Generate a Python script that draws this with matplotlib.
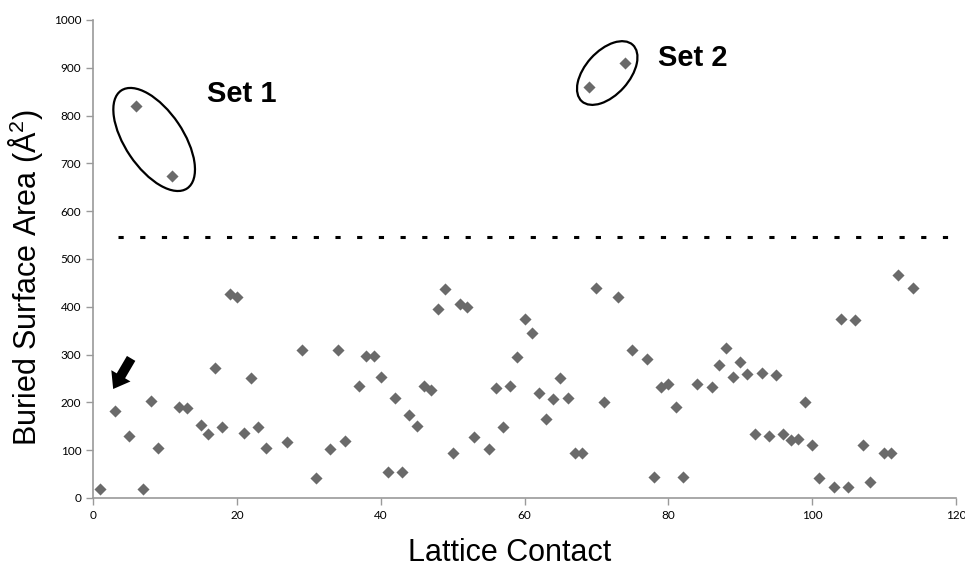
import numpy as np
import matplotlib.pyplot as plt
from matplotlib.patches import Ellipse
from matplotlib.transforms import ScaledTranslation

# lattice contact index and buried surface area (A^2)
contact = [1, 3, 5, 6, 7, 8, 9, 11, 12, 13, 15, 16, 17, 18, 19, 20, 21, 22, 23, 24,
           27, 29, 31, 33, 34, 35, 37, 38, 39, 40, 41, 42, 43, 44, 45, 46, 47, 48, 49, 50,
           51, 52, 53, 55, 56, 57, 58, 59, 60, 61, 62, 63, 64, 65, 66, 67, 68, 69, 70, 71,
           73, 74, 75, 77, 78, 79, 80, 81, 82, 84, 86, 87, 88, 89, 90, 91, 92, 93, 94, 95,
           96, 97, 98, 99, 100, 101, 103, 104, 105, 106, 107, 108, 110, 111, 112, 114]
area = [18, 182, 130, 820, 18, 203, 105, 673, 190, 188, 153, 133, 272, 148, 427, 420, 137, 251, 148, 105,
        118, 310, 42, 102, 310, 120, 234, 297, 298, 253, 55, 210, 55, 173, 150, 235, 225, 395, 437, 95,
        405, 400, 128, 103, 230, 148, 234, 295, 375, 345, 220, 165, 207, 251, 209, 95, 94, 860, 440, 200,
        420, 910, 310, 290, 43, 232, 238, 190, 43, 238, 232, 278, 313, 253, 285, 260, 133, 262, 130, 257,
        133, 122, 123, 200, 110, 42, 23, 375, 22, 373, 110, 33, 95, 95, 467, 440]

cutoff = 545
cutoff_span = [3.5, 119.5]

# annotations: label, text position (data), ellipse centre (data), size (px) and angle
sets = [
    ("Set 1", (15.9, 845), (8.5, 750), 118, 58, -56),
    ("Set 2", (78.5, 920), (71.5, 889), 76, 44, 48),
]

GREY = "#6a6a6a"
AXIS_GREY = "#9a9a9a"

plt.rcParams["mathtext.fontset"] = "custom"
plt.rcParams["mathtext.rm"] = "Liberation Sans"
plt.rcParams["mathtext.it"] = "Liberation Sans"

fig = plt.figure(figsize=(9.65, 5.69), dpi=100)
ax = fig.add_axes([0.0964, 0.1248, 0.8943, 0.8401])

ax.scatter(contact, area, marker="D", s=38, color=GREY, linewidths=0, zorder=3)
ax.plot(cutoff_span, [cutoff, cutoff], color="black", lw=2.2,
        linestyle=(0, (1.7, 5.4)), dash_capstyle="butt")

for label, txt_pos, centre, w, h, ang in sets:
    tr = fig.dpi_scale_trans + ScaledTranslation(centre[0], centre[1], ax.transData)
    ax.add_patch(Ellipse((0, 0), w / 100, h / 100, angle=ang, fill=False,
                         ec="black", lw=1.6, transform=tr, clip_on=False))
    ax.text(txt_pos[0], txt_pos[1], label, fontsize=21, fontweight="bold",
            family="Liberation Sans", va="center", ha="left")

# arrow pointing at the contact of interest
ax.annotate("", xy=(2.8, 228), xytext=(5.3, 292),
            arrowprops=dict(arrowstyle="simple,head_length=0.55,head_width=0.8,tail_width=0.35",
                            mutation_scale=20, shrinkA=0, shrinkB=0,
                            color="black", lw=0))

ax.set_xlim(0, 120)
ax.set_ylim(0, 1000)
ax.set_xticks(np.arange(0, 121, 20))
ax.set_yticks(np.arange(0, 1001, 100))
for s in ["top", "right"]:
    ax.spines[s].set_visible(False)
for s in ["left", "bottom"]:
    ax.spines[s].set_color(AXIS_GREY)
    ax.spines[s].set_linewidth(1.2)
ax.tick_params(direction="out", length=5, width=1, color=AXIS_GREY,
               labelsize=8.5, labelcolor="black")
for lab in ax.get_xticklabels() + ax.get_yticklabels():
    lab.set_family("Lato")

ax.set_xlabel("Lattice Contact", fontsize=22, family="Liberation Sans")
ax.set_ylabel("Buried Surface Area (Å$^{2}$)", fontsize=22, family="Liberation Sans")
ax.xaxis.set_label_coords(0.483, -0.083)
ax.yaxis.set_label_coords(-0.056, 0.462)

fig.savefig("out.png", dpi=100)
